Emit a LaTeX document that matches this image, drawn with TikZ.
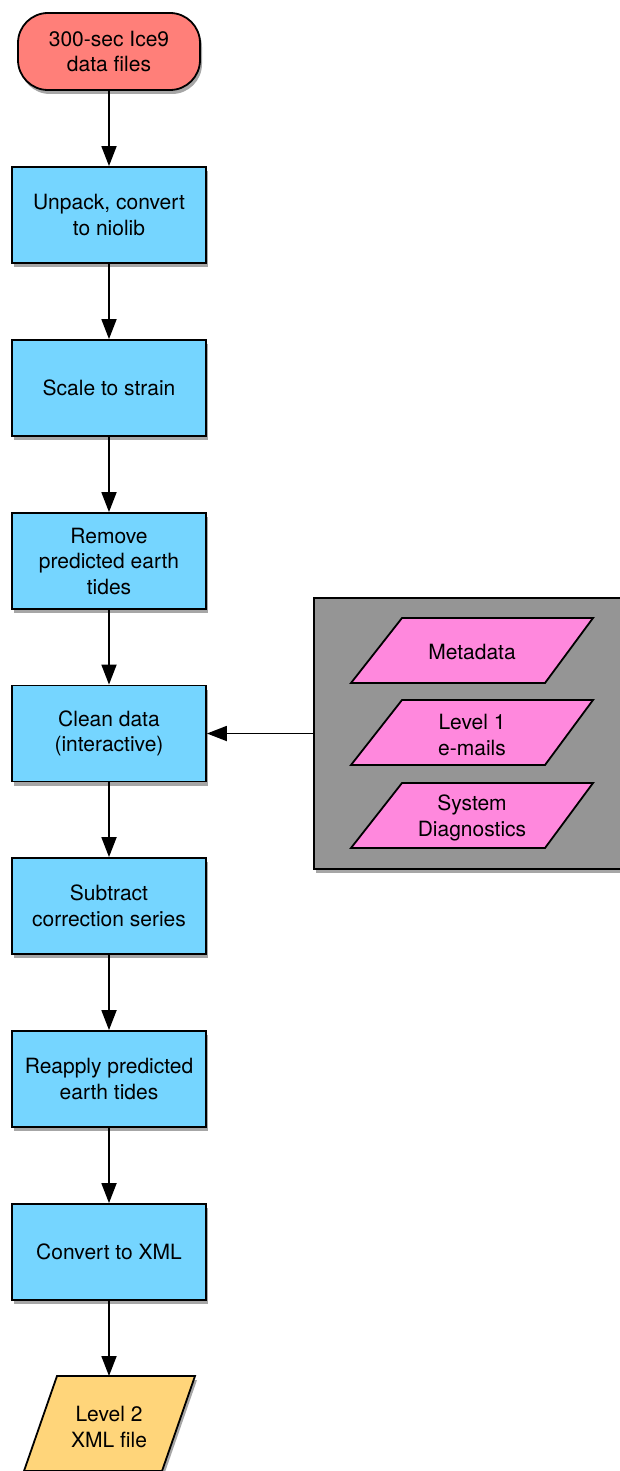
\documentclass[tikz,border=0pt]{standalone}
\usepackage{fontspec}
\setmainfont{TeX Gyre Heros}
\usetikzlibrary{arrows.meta,shadows}
\definecolor{startred}{HTML}{FF7F79}
\definecolor{boxblue}{HTML}{75D5FF}
\definecolor{parpink}{HTML}{FF88DD}
\definecolor{panelgray}{HTML}{959595}
\definecolor{outyellow}{HTML}{FFD57A}
\tikzset{
  every node/.style={font=\fontsize{21}{25.5}\selectfont, align=center, inner sep=0pt},
  shad/.style={drop shadow={shadow xshift=2pt, shadow yshift=-4pt, opacity=0.35, fill=black}},
  startbox/.style={draw=black, line width=1.8pt, fill=startred, rounded corners=30pt,
    minimum width=182pt, minimum height=77pt, shad},
  stepbox/.style={draw=black, line width=1.8pt, fill=boxblue,
    minimum width=194pt, minimum height=96pt, shad},
  panelbox/.style={draw=black, line width=1.8pt, fill=panelgray, shad},
  pinkpar/.style={draw=black, line width=1.8pt, fill=parpink},
  yellowpar/.style={draw=black, line width=1.8pt, fill=outyellow, shad},
  arr/.style={line width=1.8pt, -{Triangle[length=20pt,width=15pt]}},
}
\begin{document}
\begin{tikzpicture}[x=1pt,y=-1pt]
\useasboundingbox (0,0) rectangle (620,1471);
\fill[white] (0,0) rectangle (620,1471);

\node[startbox] (s) at (109,51.5) {300-sec Ice9\\data files};
\node[stepbox] (b1) at (109,215) {Unpack, convert\\to niolib};
\node[stepbox] (b2) at (109,388) {Scale to strain};
\node[stepbox] (b3) at (109,561) {Remove\\predicted earth\\tides};
\node[stepbox] (b4) at (109,733.5) {Clean data\\(interactive)};
\node[stepbox] (b5) at (109,906) {Subtract\\correction series};
\node[stepbox] (b6) at (109,1079) {Reapply predicted\\earth tides};
\node[stepbox] (b7) at (109,1252) {Convert to XML};

% output parallelogram
\coordinate (outtop) at (126,1376);
\filldraw[yellowpar] (24,1471) -- (57,1376) -- (195,1376) -- (162,1471) -- cycle;
\node (out) at (109,1427) {Level 2\\XML file};

% panel
\node[panelbox, minimum width=311pt, minimum height=271pt] (panel) at (469.5,733.5) {};
\filldraw[pinkpar] (351,683) -- (402,618) -- (593,618) -- (545,683) -- cycle;
\node (meta) at (472,652) {Metadata};
\filldraw[pinkpar] (351,765) -- (402,700) -- (593,700) -- (545,765) -- cycle;
\node (lev1) at (472,735) {Level 1\\e-mails};
\filldraw[pinkpar] (351,848) -- (402,783) -- (593,783) -- (545,848) -- cycle;
\node (sysd) at (472,818) {System\\Diagnostics};

\draw[arr] (s) -- (b1);
\draw[arr] (b1) -- (b2);
\draw[arr] (b2) -- (b3);
\draw[arr] (b3) -- (b4);
\draw[arr] (b4) -- (b5);
\draw[arr] (b5) -- (b6);
\draw[arr] (b6) -- (b7);
\draw[arr] (b7.south) -- (b7.south |- outtop);
\draw[arr] (panel) -- (b4);
\end{tikzpicture}
\end{document}
